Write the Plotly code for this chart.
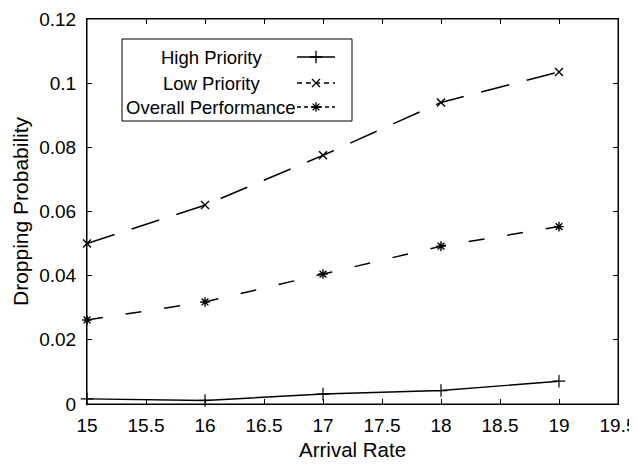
import plotly.graph_objects as go

arrival_rate = [15, 16, 17, 18, 19]
high_priority = [0.0016, 0.0011, 0.0031, 0.0042, 0.0071]
low_priority = [0.0500, 0.0620, 0.0775, 0.0940, 0.1035]
overall = [0.0262, 0.0318, 0.0405, 0.0492, 0.0553]

x_ticks = [15, 15.5, 16, 16.5, 17, 17.5, 18, 18.5, 19, 19.5]
x_ticktext = ["15", "15.5", "16", "16.5", "17", "17.5", "18", "18.5", "19", "19.5"]
y_ticks = [0, 0.02, 0.04, 0.06, 0.08, 0.10, 0.12]
y_ticktext = ["0", "0.02", "0.04", "0.06", "0.08", "0.1", "0.12"]

series_names = ["High Priority", "Low Priority", "Overall Performance"]
x_title = "Arrival Rate"
y_title = "Dropping Probability"

FONT = "Liberation Sans, Arial, sans-serif"

# The page body has an 8px margin: page coordinates = figure coordinates + 8
OFF = 8
W, H = 637, 464
# plot area in page pixels
L, R, T, B = 87, 618, 19, 404

fig = go.Figure()

fig.add_trace(go.Scatter(
    x=arrival_rate, y=high_priority, mode="lines+markers", name=series_names[0],
    line=dict(color="black", width=1.4),
    marker=dict(symbol="cross-thin-open", size=9, color="black", line=dict(color="black", width=1.2)),
    cliponaxis=False, showlegend=False))
fig.add_trace(go.Scatter(
    x=arrival_rate, y=low_priority, mode="lines+markers", name=series_names[1],
    line=dict(color="black", width=1.5, dash="29px,18px"),
    marker=dict(symbol="x-thin-open", size=8, color="black", line=dict(color="black", width=1.4)),
    cliponaxis=False, showlegend=False))
fig.add_trace(go.Scatter(
    x=arrival_rate, y=overall, mode="lines+markers", name=series_names[2],
    line=dict(color="black", width=1.5, dash="16px,23px"),
    marker=dict(symbol="asterisk-open", size=8, color="black", line=dict(color="black", width=1.4)),
    cliponaxis=False, showlegend=False))

# Manual MATLAB-style legend drawn on a pixel-scaled overlay axis (page pixels)
rows_y = [57, 83, 107]
text_cx = 211
sx0, sx1, smid = 297, 335, 316
legend_dash = [None, "5px,4px", "4px,3px"]
legend_sym = ["cross-thin-open", "x-thin-open", "asterisk-open"]

fig.add_shape(type="rect", xref="x2", yref="y2", x0=122, x1=352, y0=39, y1=121,
              line=dict(color="black", width=1), fillcolor="white", layer="below")
for i, name in enumerate(series_names):
    ln = dict(color="black", width=1.4)
    if legend_dash[i]:
        ln["dash"] = legend_dash[i]
    fig.add_trace(go.Scatter(
        x=[sx0, sx1], y=[rows_y[i], rows_y[i]], xaxis="x2", yaxis="y2", mode="lines",
        line=ln, showlegend=False, hoverinfo="skip"))
    fig.add_trace(go.Scatter(
        x=[smid], y=[rows_y[i]], xaxis="x2", yaxis="y2", mode="markers",
        marker=dict(symbol=legend_sym[i], size=8 if i else 9, color="black",
                    line=dict(color="black", width=1.3)),
        showlegend=False, hoverinfo="skip"))
    fig.add_annotation(x=text_cx, y=rows_y[i], xref="x2", yref="y2", text=name,
                       showarrow=False, font=dict(family=FONT, size=18.5, color="black"),
                       xanchor="center", yanchor="middle")

# plot-area frame
fig.add_shape(type="rect", xref="paper", yref="paper", x0=0, x1=1, y0=0, y1=1,
              line=dict(color="black", width=1), layer="above")

# Axis titles placed as annotations (paper coordinates computed from page pixels)
fig.add_annotation(x=(352 - L) / (R - L), y=(B - 449) / (B - T), xref="paper", yref="paper",
                   text=x_title, showarrow=False, xanchor="center", yanchor="middle",
                   font=dict(family=FONT, size=20.5, color="black"))
fig.add_annotation(x=(20 - L) / (R - L), y=(B - 211) / (B - T), xref="paper", yref="paper",
                   text=y_title, showarrow=False, xanchor="center", yanchor="middle",
                   textangle=-90, font=dict(family=FONT, size=21, color="black"))

axis_common = dict(showline=True, linecolor="black", linewidth=1, mirror="ticks",
                   ticks="inside", ticklen=5, tickcolor="black", tickwidth=1,
                   showgrid=False, zeroline=False, automargin=False,
                   tickfont=dict(family=FONT, size=19, color="black"))

fig.update_layout(
    width=W, height=H,
    margin=dict(l=L - OFF, r=W - (R - OFF), t=T - OFF, b=H - (B - OFF)),
    paper_bgcolor="white", plot_bgcolor="white",
    showlegend=False,
    xaxis=dict(range=[15, 19.5], tickvals=x_ticks, ticktext=x_ticktext,
               ticklabelstandoff=4, **axis_common),
    yaxis=dict(range=[0, 0.12], tickvals=y_ticks, ticktext=y_ticktext,
               ticklabelstandoff=6, **axis_common),
    xaxis2=dict(range=[L, R], overlaying="x", visible=False, domain=[0, 1], automargin=False),
    yaxis2=dict(range=[B, T], overlaying="y", visible=False, domain=[0, 1], automargin=False),
)

fig.write_html("out.html")
